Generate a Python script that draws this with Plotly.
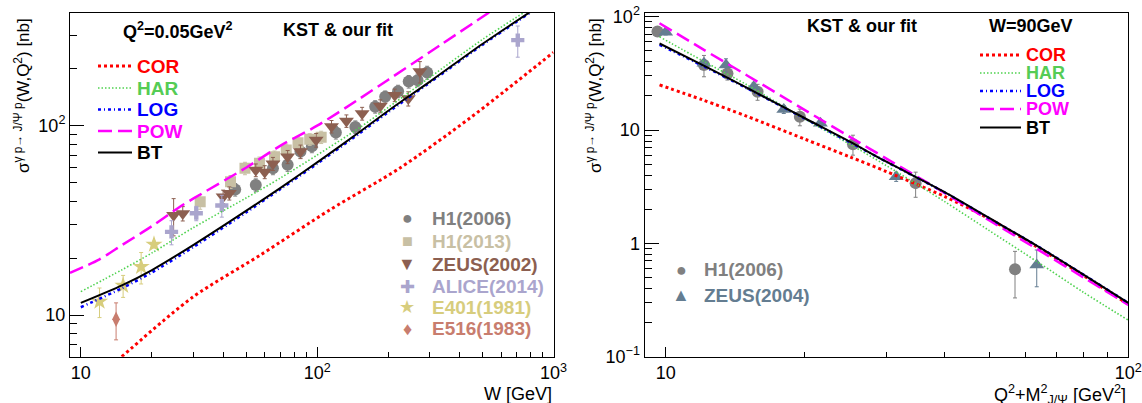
import math
import plotly.graph_objects as go

# ---------------- data: left panel (Q^2 = 0.05 GeV^2), sigma vs W ----------------
h1_2006_W = [45, 55, 65, 75, 85, 95, 120, 145, 176, 194, 220, 244, 266, 292]
h1_2006_sig = [46, 48.6, 59.6, 62.2, 73, 78, 92, 98.5, 126, 142, 152, 171, 174, 191]
h1_2006_err = [3.5, 3.8, 4.5, 4.8, 5.5, 6, 7, 7.5, 9.5, 10.5, 11.5, 13, 13.5, 15]

h1_2013_W = [32, 43, 49.5, 57, 66, 74, 83, 93, 104]
h1_2013_sig = [39.7, 50.6, 59.6, 63.3, 68.5, 74.4, 81.3, 84.7, 87]
h1_2013_err = [3.5, 4, 4.5, 5, 5, 5.5, 6, 6, 6.5]

zeus_2002_W = [24.7, 27, 40, 42.5, 55, 60, 65, 75, 85, 99, 115, 133, 155, 185, 213, 243, 272]
zeus_2002_sig = [33.7, 34.4, 42.2, 44, 58.3, 57, 63, 68.5, 73, 84, 99, 106, 116, 127, 145, 139, 193]
zeus_2002_err = [7.5, 3, 3.5, 3.5, 4.5, 4.5, 5, 5.5, 6, 7, 7.5, 8, 9, 10, 11, 12, 25]

alice_2014_W = [24.2, 30.8, 39.5, 706]
alice_2014_sig = [27.5, 34.5, 37.9, 283]
alice_2014_err = [4, 3, 5, 53]

e401_1981_W = [12.0, 15.1, 18.0, 20.4]
e401_1981_sig = [11.8, 14.3, 18.0, 23.6]
e401_1981_err = [2.1, 1.9, 3.4, 1.0]

e516_1983_W = [14.1]
e516_1983_sig = [9.5]
e516_1983_err = [2.1]

# model curves, left panel
cor_W = [14.9, 29.8, 57.3, 113, 224, 444, 1000]
cor_sig = [6.03, 12.45, 20.7, 35.9, 59.8, 110, 244]
har_W = [10, 15, 20, 30, 50, 70, 100, 150, 200, 300, 500, 760]
har_sig = [13.3, 17.4, 21.3, 29.0, 41.5, 53, 70, 97, 125, 180, 285, 400]
log_W = [10, 15, 20, 30, 50, 70, 100, 150, 200, 300, 500, 800]
log_sig = [11.0, 13.9, 16.8, 22.9, 34.8, 46.3, 63, 90.5, 118, 169, 267, 396]
pow_W = [9, 12, 15, 20, 26, 30, 50, 70, 100, 150, 200, 300, 540]
pow_sig = [16.7, 19.7, 23.5, 29.5, 37, 41.3, 60, 78.5, 100, 138, 175, 245, 400]
bt_W = [10, 15, 20, 30, 50, 70, 100, 150, 200, 300, 500, 800]
bt_sig = [11.6, 14.4, 17.3, 23.5, 35.5, 47, 64, 92, 120, 171, 270, 400]

# ---------------- data: right panel (W = 90 GeV), sigma vs Q^2+M^2 ----------------
h1_2006r_X = [9.6, 12.1, 13.6, 15.8, 19.5, 25.4, 34.7, 56.9]
h1_2006r_sig = [73.9, 37.5, 31.6, 21.8, 13.1, 7.5, 3.4, 0.59]
h1_2006r_err = [5, 8, 4, 3.5, 2.2, 1.5, 0.85, 0.26]

zeus_2004_X = [10, 12.1, 13.5, 15.5, 18, 21.6, 31.5, 63.4]
zeus_2004_sig = [73, 38.8, 37.5, 24.1, 15.2, 11.5, 3.87, 0.644]
zeus_2004_err = [4, 3, 5, 2, 1.2, 0.9, 0.35, 0.23]

r_X = [9.7, 12, 15, 20, 25, 30, 40, 50, 63.5, 80, 100]
cor_r = [25, 18.5, 13.2, 8.3, 5.8, 4.3, 2.6, 1.65, 0.93, 0.52, 0.29]
har_r = [66.5, 41, 25, 12.5, 7.5, 4.85, 2.35, 1.3, 0.69, 0.37, 0.21]
log_r = [56.5, 37, 23.3, 12.6, 7.8, 5.25, 2.83, 1.67, 0.95, 0.53, 0.298]
pow_r = [87.5, 52, 30.3, 15, 8.7, 5.6, 2.8, 1.6, 0.89, 0.50, 0.287]
bt_r = [58, 37.5, 23.5, 12.7, 7.9, 5.25, 2.85, 1.68, 0.95, 0.53, 0.298]

# ---------------- styling ----------------
FONT = "Liberation Sans, Arial, Helvetica, sans-serif"
FW, FH = 1142, 403
def px(x):
    return x / FW
def py(y):
    return 1 - y / FH

curve_styles = {
    "COR": dict(color="#ff0000", width=3, dash="3px,3px"),
    "HAR": dict(color="#4fd24f", width=1.6, dash="1.5px,2px"),
    "LOG": dict(color="#0000ff", width=2.5, dash="3px,3px,1px,3px"),
    "POW": dict(color="#ff00ff", width=2.5, dash="14px,6px"),
    "BT": dict(color="#000000", width=2),
}
legend_text_colors = {"COR": "#ff0000", "HAR": "#55cc55", "LOG": "#0000ff", "POW": "#ff00ff", "BT": "#000000"}

data_styles = {
    "H1(2006)": dict(color="#808080", symbol="circle", size=12, glyph="\u25CF"),
    "H1(2013)": dict(color="#c8c0a4", symbol="square", size=11, glyph="\u25A0"),
    "ZEUS(2002)": dict(color="#8c5f50", symbol="triangle-down", size=13, glyph="\u25BC"),
    "ALICE(2014)": dict(color="#aaa5cd", symbol="cross", size=11, glyph="\u271A"),
    "E401(1981)": dict(color="#d7cd7d", symbol="star", size=13, glyph="\u2605"),
    "E516(1983)": dict(color="#c87d6e", symbol="diamond-tall", size=11, glyph="\u2666"),
    "ZEUS(2004)": dict(color="#647d91", symbol="triangle-up", size=13, glyph="\u25B2"),
}

fig = go.Figure()

def add_data(x, y, err, name, xa, ya):
    st = data_styles[name]
    fig.add_trace(go.Scatter(
        x=x, y=y, mode="markers", name=name, showlegend=False,
        xaxis=xa, yaxis=ya,
        marker=dict(symbol=st["symbol"], size=st["size"], color=st["color"], line=dict(width=0)),
        error_y=dict(type="data", array=err, visible=True, color=st["color"], thickness=1, width=2),
    ))

def add_curve(x, y, name, xa, ya):
    fig.add_trace(go.Scatter(
        x=x, y=y, mode="lines", name=name, showlegend=False,
        xaxis=xa, yaxis=ya, line=dict(shape="spline", smoothing=0.8, **curve_styles[name]),
    ))

# left panel
add_data(h1_2006_W, h1_2006_sig, h1_2006_err, "H1(2006)", "x", "y")
add_data(h1_2013_W, h1_2013_sig, h1_2013_err, "H1(2013)", "x", "y")
add_data(zeus_2002_W, zeus_2002_sig, zeus_2002_err, "ZEUS(2002)", "x", "y")
add_data(alice_2014_W, alice_2014_sig, alice_2014_err, "ALICE(2014)", "x", "y")
add_data(e401_1981_W, e401_1981_sig, e401_1981_err, "E401(1981)", "x", "y")
add_data(e516_1983_W, e516_1983_sig, e516_1983_err, "E516(1983)", "x", "y")
add_curve(cor_W, cor_sig, "COR", "x", "y")
add_curve(har_W, har_sig, "HAR", "x", "y")
add_curve(pow_W, pow_sig, "POW", "x", "y")
add_curve(log_W, log_sig, "LOG", "x", "y")
add_curve(bt_W, bt_sig, "BT", "x", "y")

# right panel
add_data(h1_2006r_X, h1_2006r_sig, h1_2006r_err, "H1(2006)", "x2", "y2")
add_data(zeus_2004_X, zeus_2004_sig, zeus_2004_err, "ZEUS(2004)", "x2", "y2")
add_curve(r_X, cor_r, "COR", "x2", "y2")
add_curve(r_X, har_r, "HAR", "x2", "y2")
add_curve(r_X, pow_r, "POW", "x2", "y2")
add_curve(r_X, log_r, "LOG", "x2", "y2")
add_curve(r_X, bt_r, "BT", "x2", "y2")

def minor_vals(lo_exp, hi_exp, vmin, vmax):
    vals = []
    for e in range(lo_exp, hi_exp + 1):
        for m in range(2, 10):
            v = m * 10 ** e
            if vmin < v < vmax:
                vals.append(v)
    return vals

def sup_label(v):
    e = int(round(math.log10(v)))
    if e == 0:
        return "1"
    if e == 1:
        return "10"
    return "10<sup>%s</sup>" % (str(e) if e > 0 else "\u2212" + str(-e))

axis_common = dict(
    type="log", showgrid=False, zeroline=False, showline=True, linecolor="black",
    linewidth=1, mirror=True, ticks="inside", tickcolor="black", tickwidth=1,
    automargin=False,
    tickfont=dict(family=FONT, size=18, color="black"),
)

YD = [py(356.7), py(12.5)]
left_xmaj = [10, 100, 1000]
left_ymaj = [10, 100]
right_xmaj = [10, 100]
right_ymaj = [0.1, 1, 10, 100]

fig.update_layout(
    width=FW, height=FH, margin=dict(l=0, r=0, t=0, b=0, autoexpand=False),
    paper_bgcolor="white", plot_bgcolor="white", showlegend=False,
    font=dict(family=FONT, color="black"),
    xaxis=dict(axis_common, domain=[px(70), px(553.5)], range=[math.log10(9), 3], anchor="y",
               tickvals=left_xmaj, ticktext=[sup_label(v) for v in left_xmaj], ticklen=10,
               minor=dict(tickvals=minor_vals(1, 2, 9, 1000), ticks="inside", ticklen=5, tickcolor="black")),
    yaxis=dict(axis_common, domain=YD, range=[math.log10(6.03), math.log10(396)], anchor="x",
               tickvals=left_ymaj, ticktext=[sup_label(v) for v in left_ymaj], ticklen=14,
               minor=dict(tickvals=minor_vals(0, 2, 6.03, 396), ticks="inside", ticklen=7, tickcolor="black")),
    xaxis2=dict(axis_common, domain=[px(644.5), px(1128.3)], range=[math.log10(9), 2], anchor="y2",
                tickvals=right_xmaj, ticktext=[sup_label(v) for v in right_xmaj], ticklen=10,
                minor=dict(tickvals=minor_vals(1, 1, 9, 100), ticks="inside", ticklen=5, tickcolor="black")),
    yaxis2=dict(axis_common, domain=YD, range=[-1, 2.037], anchor="x2",
                tickvals=right_ymaj, ticktext=[sup_label(v) for v in right_ymaj], ticklen=14,
                minor=dict(tickvals=minor_vals(-1, 1, 0.1, 108), ticks="inside", ticklen=7, tickcolor="black")),
)

ann = []
shapes = []

def text(x, y, s, size=18, color="black", xanchor="center", angle=0):
    ann.append(dict(x=px(x), y=py(y), xref="paper", yref="paper", text=s, showarrow=False,
                    xanchor=xanchor, yanchor="middle", textangle=angle,
                    font=dict(family=FONT, size=size, color=color)))

# titles inside panels
text(178, 30, "<b>Q<sup>2</sup>=0.05GeV<sup>2</sup></b>")
text(338, 30, "<b>KST &amp; our fit</b>")
text(862, 26, "<b>KST &amp; our fit</b>")
text(1031, 26, "<b>W=90GeV</b>")

# axis titles
ytitle = "\u03c3<sup>\u03b3 p\u2192 J/\u03a8 p</sup>(W,Q<sup>2</sup>) [nb]"
text(22, 96, ytitle, size=17, angle=-90)
text(594, 96, ytitle, size=17, angle=-90)
text(553.5, 394, "W [GeV]", size=18, xanchor="right")
text(1128.3, 394, "Q<sup>2</sup>+M<sup>2</sup><sub>J/\u03a8</sub> [GeV<sup>2</sup>]", size=18, xanchor="right")

# curve legends
curve_names = ["COR", "HAR", "LOG", "POW", "BT"]
for (x0, x1, xt, rows, fs) in [(98, 132, 135, [66, 88, 109.5, 131, 152.5], 19),
                               (980, 1021, 1024, [55, 73, 91, 109, 127.5], 18)]:
    for name, yy in zip(curve_names, rows):
        st = curve_styles[name]
        shapes.append(dict(type="line", xref="paper", yref="paper", x0=px(x0), x1=px(x1),
                           y0=py(yy), y1=py(yy),
                           line=dict(color=st["color"], width=st["width"], dash=st.get("dash", "solid"))))
        text(xt, yy, "<b>%s</b>" % name, size=fs, color=legend_text_colors[name], xanchor="left")

# data legends
left_names = ["H1(2006)", "H1(2013)", "ZEUS(2002)", "ALICE(2014)", "E401(1981)", "E516(1983)"]
left_rows = [218, 241, 264, 286.5, 307, 328.5]
for name, yy in zip(left_names, left_rows):
    st = data_styles[name]
    text(407, yy, st["glyph"], size=18, color=st["color"])
    text(430, yy, "<b>%s</b>" % name, size=19, color=st["color"], xanchor="left")
right_names = ["H1(2006)", "ZEUS(2004)"]
right_rows = [269.5, 295]
for name, yy in zip(right_names, right_rows):
    st = data_styles[name]
    text(681, yy, st["glyph"], size=18, color=st["color"])
    text(702, yy, "<b>%s</b>" % name, size=19, color=st["color"], xanchor="left")

fig.update_layout(annotations=ann, shapes=shapes)
fig.write_html("out.html", config={"displayModeBar": False},
               post_script="document.body.style.margin='0px';document.body.style.padding='0px';")
